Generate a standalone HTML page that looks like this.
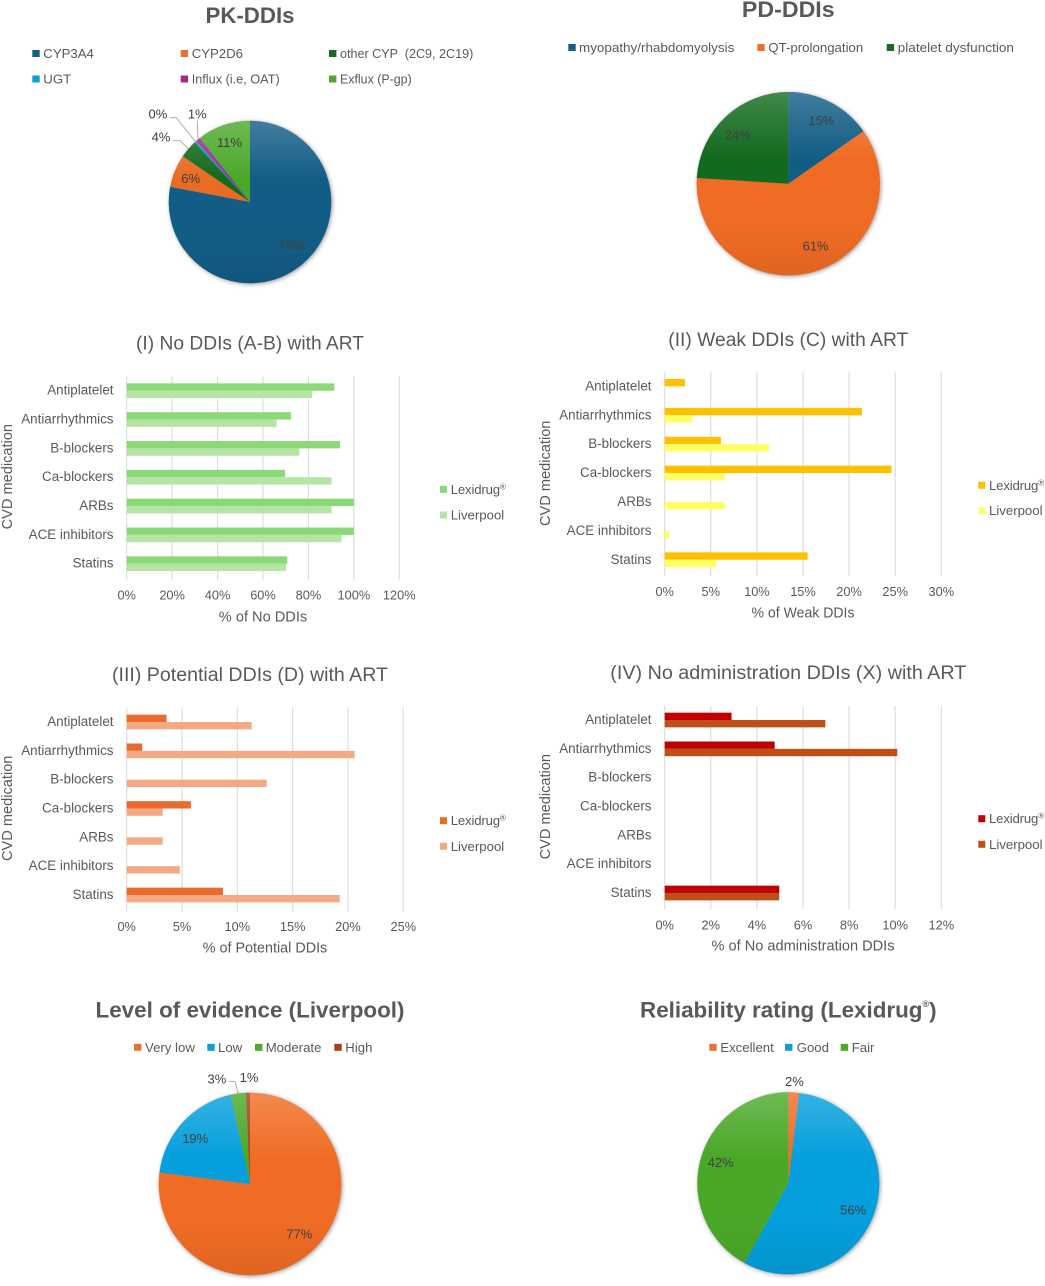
<!DOCTYPE html>
<html lang="en">
<head>
<meta charset="utf-8">
<title>DDI charts</title>
<style>
html,body{margin:0;padding:0;background:#fff}
svg{display:block;filter:blur(.3px)}
text{font-family:"Liberation Sans",sans-serif;fill:#595959;dominant-baseline:central}
.pt{font-size:22px;font-weight:bold;text-anchor:middle}
.bt{font-size:19px;text-anchor:middle}
.lg{font-size:13.2px}
.ax{font-size:14.6px;text-anchor:middle}
.cat{font-size:13.4px;text-anchor:end}
.tick{font-size:12.8px;text-anchor:middle}
.dl{font-size:13px;text-anchor:middle;fill:#404040}
.lx{letter-spacing:-.17px}
</style>
</head>
<body>
<svg id="fig" xmlns="http://www.w3.org/2000/svg" width="1045" height="1286" viewBox="0 0 1045 1286">
<defs>
<linearGradient id="pieGloss" x1="0" y1="0" x2="0" y2="1">
<stop offset="0" stop-color="#fff" stop-opacity=".2"/>
<stop offset=".36" stop-color="#fff" stop-opacity="0"/>
<stop offset=".7" stop-color="#000" stop-opacity="0"/>
<stop offset="1" stop-color="#000" stop-opacity=".07"/>
</linearGradient>
</defs>
<rect width="1045" height="1286" fill="#fff"/>

<!-- PK pie static -->
<text class="pt" x="250" y="15.7" textLength="89" lengthAdjust="spacingAndGlyphs">PK-DDIs</text>
<g class="lg">
<g><rect x="32.3" y="50" width="7.4" height="7" fill="#156082"/><text x="43.3" y="53.5">CYP3A4</text></g>
<g><rect x="180.7" y="50" width="7.4" height="7" fill="#e97132"/><text x="191.7" y="53.5">CYP2D6</text></g>
<g><rect x="329" y="50" width="7.4" height="7" fill="#196b24"/><text x="340" y="53.5" textLength="133.3" lengthAdjust="spacingAndGlyphs">other CYP &#160;(2C9, 2C19)</text></g>
<g><rect x="32.3" y="75.5" width="7.4" height="7" fill="#0f9ed5"/><text x="43.3" y="79">UGT</text></g>
<g><rect x="180.7" y="75.5" width="7.4" height="7" fill="#a02b93"/><text x="191.7" y="79" textLength="88" lengthAdjust="spacingAndGlyphs">Influx (i.e, OAT)</text></g>
<g><rect x="329" y="75.5" width="7.4" height="7" fill="#4ea72e"/><text x="340" y="79" textLength="71.7" lengthAdjust="spacingAndGlyphs">Exflux (P-gp)</text></g>
</g>

<!-- PD pie static -->
<text class="pt" x="788.3" y="9.3" textLength="92.7" lengthAdjust="spacingAndGlyphs">PD-DDIs</text>
<g class="lg">
<g><rect x="568.3" y="44" width="7.4" height="7" fill="#156082"/><text x="579" y="47.5" textLength="155.3" lengthAdjust="spacingAndGlyphs">myopathy/rhabdomyolysis</text></g>
<g><rect x="757.3" y="44" width="7.4" height="7" fill="#e97132"/><text x="768.3" y="47.5" textLength="95" lengthAdjust="spacingAndGlyphs">QT-prolongation</text></g>
<g><rect x="886.7" y="44" width="7.4" height="7" fill="#196b24"/><text x="897.7" y="47.5" textLength="116.3" lengthAdjust="spacingAndGlyphs">platelet dysfunction</text></g>
</g>

<!-- Bar chart titles -->
<text class="bt" x="250" y="344" textLength="228" lengthAdjust="spacingAndGlyphs">(I) No DDIs (A-B) with ART</text>
<text class="bt" x="788.3" y="340.7" textLength="240" lengthAdjust="spacingAndGlyphs">(II) Weak DDIs (C) with ART</text>
<text class="bt" x="250" y="675.7" textLength="276" lengthAdjust="spacingAndGlyphs">(III) Potential DDIs (D) with ART</text>
<text class="bt" x="788.3" y="673.3" textLength="356" lengthAdjust="spacingAndGlyphs">(IV) No administration DDIs (X) with ART</text>

<!-- Axis titles -->
<text class="ax" transform="translate(7.8,476.7) rotate(-90)">CVD medication</text>
<text class="ax" transform="translate(545.8,473.3) rotate(-90)">CVD medication</text>
<text class="ax" transform="translate(7.8,808.3) rotate(-90)">CVD medication</text>
<text class="ax" transform="translate(545.8,806.7) rotate(-90)">CVD medication</text>
<text class="ax" x="263" y="617.3">% of No DDIs</text>
<text class="ax" x="803" y="613.3" textLength="103" lengthAdjust="spacingAndGlyphs">% of Weak DDIs</text>
<text class="ax" x="265" y="948.3" textLength="124.5" lengthAdjust="spacingAndGlyphs">% of Potential DDIs</text>
<text class="ax" x="803" y="946.7" textLength="183" lengthAdjust="spacingAndGlyphs">% of No administration DDIs</text>

<!-- Bar chart legends -->
<g class="lg">
<g><rect x="440" y="485.8" width="7" height="7" fill="#8ad878"/><text class="lx" x="450.7" y="489.3">Lexidrug<tspan dy="-3" font-size="8">®</tspan></text></g>
<g><rect x="440" y="511.5" width="7" height="7" fill="#b5e5a5"/><text x="450.7" y="515">Liverpool</text></g>
</g>
<g class="lg">
<g><rect x="978.3" y="481.8" width="7" height="7" fill="#ffc000"/><text class="lx" x="989" y="485.3">Lexidrug<tspan dy="-3" font-size="8">®</tspan></text></g>
<g><rect x="978.3" y="507.2" width="7" height="7" fill="#ffff66"/><text x="989" y="510.7">Liverpool</text></g>
</g>
<g class="lg">
<g><rect x="440" y="817.2" width="7" height="7" fill="#ea6b2d"/><text class="lx" x="450.7" y="820.7">Lexidrug<tspan dy="-3" font-size="8">®</tspan></text></g>
<g><rect x="440" y="842.8" width="7" height="7" fill="#f4a985"/><text x="450.7" y="846.3">Liverpool</text></g>
</g>
<g class="lg">
<g><rect x="978.3" y="815.2" width="7" height="7" fill="#c00000"/><text class="lx" x="989" y="818.7">Lexidrug<tspan dy="-3" font-size="8">®</tspan></text></g>
<g><rect x="978.3" y="840.8" width="7" height="7" fill="#c04f15"/><text x="989" y="844.3">Liverpool</text></g>
</g>

<!-- Level of evidence static -->
<text class="pt" x="250" y="1010" textLength="309" lengthAdjust="spacingAndGlyphs">Level of evidence (Liverpool)</text>
<g class="lg">
<g><rect x="134" y="1043.8" width="7.4" height="7" fill="#e97132"/><text x="145" y="1047.3">Very low</text></g>
<g><rect x="207.3" y="1043.8" width="7.4" height="7" fill="#0f9ed5"/><text x="218" y="1047.3">Low</text></g>
<g><rect x="255" y="1043.8" width="7.4" height="7" fill="#4ea72e"/><text x="265.7" y="1047.3">Moderate</text></g>
<g><rect x="334.3" y="1043.8" width="7.4" height="7" fill="#a5401a"/><text x="345.3" y="1047.3">High</text></g>
</g>

<!-- Reliability static -->
<text class="pt" x="788.3" y="1010" style="font-size:22.4px">Reliability rating (Lexidrug<tspan dy="-6" font-size="9">®</tspan><tspan dy="6">)</tspan></text>
<g class="lg">
<g><rect x="709.3" y="1043.8" width="7.4" height="7" fill="#e97132"/><text x="720.3" y="1047.3">Excellent</text></g>
<g><rect x="785" y="1043.8" width="7.4" height="7" fill="#0f9ed5"/><text x="796.7" y="1047.3">Good</text></g>
<g><rect x="840.7" y="1043.8" width="7.4" height="7" fill="#4ea72e"/><text x="851.7" y="1047.3">Fair</text></g>
</g>
</svg>

<script>
// ---- Bar chart data ----
const categories = ['Antiplatelet', 'Antiarrhythmics', 'B-blockers', 'Ca-blockers', 'ARBs', 'ACE inhibitors', 'Statins'];

const noDdiLexidrug = [91.4, 72.3, 93.9, 69.7, 100, 100, 70.7];
const noDdiLiverpool = [81.7, 66, 76, 90.2, 90.2, 94.6, 70.1];
const noDdiTicks = [0, 20, 40, 60, 80, 100, 120];

const weakLexidrug = [2.2, 21.4, 6.1, 24.6, 0, 0, 15.5];
const weakLiverpool = [0, 3.0, 11.3, 6.5, 6.5, 0.5, 5.6];
const weakTicks = [0, 5, 10, 15, 20, 25, 30];

const potentialLexidrug = [3.6, 1.4, 0, 5.8, 0, 0, 8.7];
const potentialLiverpool = [11.3, 20.6, 12.65, 3.25, 3.25, 4.8, 19.25];
const potentialTicks = [0, 5, 10, 15, 20, 25];

const noAdminLexidrug = [2.9, 4.77, 0, 0, 0, 0, 4.97];
const noAdminLiverpool = [6.97, 10.09, 0, 0, 0, 0, 4.97];
const noAdminTicks = [0, 2, 4, 6, 8, 10, 12];

// ---- Pie chart data ----
const pkNames = ['CYP3A4', 'CYP2D6', 'other CYP', 'UGT', 'Influx', 'Exflux'];
const pkValues = [78, 6.5, 3.6, 0.4, 0.9, 10.6];
const pkLabels = ['78%', '6%', '4%', '0%', '1%', '11%'];

const pdNames = ['myopathy', 'QT-prolongation', 'platelet-dysfunction'];
const pdValues = [15.3, 60.7, 24];
const pdLabels = ['15%', '61%', '24%'];

const evidenceNames = ['Very low', 'Low', 'Moderate', 'High'];
const evidenceValues = [77, 19.6, 2.7, 0.7];
const evidenceLabels = ['77%', '19%', '3%', '1%'];

const reliabilityNames = ['Excellent', 'Good', 'Fair'];
const reliabilityValues = [1.9, 56.1, 42];
const reliabilityLabels = ['2%', '56%', '42%'];

const svg = document.getElementById('fig');
const NS = 'http://www.w3.org/2000/svg';

function add(parent, tag, attrs) {
  const el = document.createElementNS(NS, tag);
  for (const k in attrs) el.setAttribute(k, attrs[k]);
  parent.appendChild(el);
  return el;
}
function slug(s) {
  return s.toLowerCase().replace(/[^a-z0-9]+/g, '-');
}

function drawBars(name, lexi, liver, ticks, o) {
  const g = add(svg, 'g', {});
  
  
  const maxV = ticks[ticks.length - 1];
  const xOf = function (v) { return o.left + (v / maxV) * (o.right - o.left); };
  const yOf = function (i) { return o.top + o.step * (i + 0.5); };
  const barH = o.step * 0.255;

  ticks.forEach(function (t) {
    const line = add(g, 'line', {x1: xOf(t), x2: xOf(t), y1: o.top, y2: o.top + o.step * categories.length + 1.8, stroke: '#dedede', 'stroke-width': 1.2});
    
    
    const lab = add(g, 'text', {class: 'tick', x: xOf(t), y: o.tickY});
    
    
    lab.textContent = t + '%';
  });

  categories.forEach(function (c, i) {
    const lab = add(g, 'text', {class: 'cat', x: o.left - 13.2, y: yOf(i) - 0.5});
    
    
    lab.textContent = c;

    const b1 = add(g, 'rect', {x: xOf(0), y: yOf(i) - barH, width: xOf(lexi[i]) - xOf(0), height: barH, fill: o.c1});
    
    

    const b2 = add(g, 'rect', {x: xOf(0), y: yOf(i), width: xOf(liver[i]) - xOf(0), height: barH, fill: o.c2});
    
    
  });
}

function drawPie(name, names, values, labels, colors, o) {
  const g = add(svg, 'g', {});
  
  
  const sl = add(g, 'g', {style: 'filter:drop-shadow(1px 1.5px 2px rgba(0,0,0,.4))'});
  
  
  const total = values.reduce(function (a, b) { return a + b; }, 0);
  const pt = function (frac, rad) {
    const a = frac * 2 * Math.PI;
    return [o.cx + Math.sin(a) * rad, o.cy - Math.cos(a) * rad];
  };
  let cum = 0;
  const mids = [];
  values.forEach(function (v, i) {
    const f0 = cum / total;
    const f1 = (cum + v) / total;
    cum += v;
    mids.push((f0 + f1) / 2);
    const p0 = pt(f0, o.r);
    const p1 = pt(f1, o.r);
    const large = (f1 - f0) > 0.5 ? 1 : 0;
    const d = 'M' + o.cx + ' ' + o.cy + 'L' + p0[0] + ' ' + p0[1] + 'A' + o.r + ' ' + o.r + ' 0 ' + large + ' 1 ' + p1[0] + ' ' + p1[1] + 'Z';
    const s = add(sl, 'path', {d: d, fill: colors[i]});
    
    
  });
  const gloss = add(g, 'circle', {cx: o.cx, cy: o.cy, r: o.r, fill: 'url(#pieGloss)'});
  
  

  labels.forEach(function (t, i) {
    const p = pt(mids[i], o.r * o.fracs[i]);
    const x = p[0] + o.nudges[i][0];
    const y = p[1] + o.nudges[i][1];
    const lab = add(g, 'text', {class: 'dl', x: x, y: y});
    
    
    lab.textContent = t;
    const lead = o.leaders[i];
    if (lead) {
      const e = pt(mids[i], o.r);
      const pts = [[x + lead[0], y + lead[1]], [x + lead[2], y + lead[1]], e].map(function (q) { return q.join(','); }).join(' ');
      const pl = add(g, 'polyline', {points: pts, fill: 'none', stroke: '#a6a6a6', 'stroke-width': 0.9});
      
      
    }
  });
}

drawBars('chart-i', noDdiLexidrug, noDdiLiverpool, noDdiTicks, {left: 126.7, right: 399.3, top: 376.3, step: 28.83, tickY: 595, c1: '#8ad878', c2: '#b5e5a5'});
drawBars('chart-ii', weakLexidrug, weakLiverpool, weakTicks, {left: 664.7, right: 941.3, top: 371.9, step: 28.9, tickY: 591.7, c1: '#ffc000', c2: '#ffff66'});
drawBars('chart-iii', potentialLexidrug, potentialLiverpool, potentialTicks, {left: 126.7, right: 403.3, top: 707.6, step: 28.83, tickY: 926.7, c1: '#ea6b2d', c2: '#f4a985'});
drawBars('chart-iv', noAdminLexidrug, noAdminLiverpool, noAdminTicks, {left: 664.7, right: 941.3, top: 705.6, step: 28.83, tickY: 925, c1: '#c00000', c2: '#c04f15'});

drawPie('pk', pkNames, pkValues, pkLabels, ['#125d85', '#ea6b24', '#146a1e', '#0f9ed5', '#a02b93', '#4aa828'], {
  cx: 250, cy: 202, r: 81.3,
  fracs: [0.738, 0.79, 1.353, 1.56, 1.255, 0.775],
  nudges: [[3.5, -3], [0, 1], [-5.6, 6.7], [-7, 6], [12.5, -9.5], [0, 0]],
  leaders: [null, null, [12.3, 3.7, 19], [12.3, 3.7, 18.3], [0, 6.4, 0], null]
});
drawPie('pd', pdNames, pdValues, pdLabels, ['#125d85', '#f06c24', '#126a1e'], {
  cx: 788.3, cy: 183.7, r: 91.7,
  fracs: [0.78, 0.74, 0.765],
  nudges: [[0, 0], [9, -3], [-2.6, 2.5]],
  leaders: [null, null, null]
});
drawPie('evidence', evidenceNames, evidenceValues, evidenceLabels, ['#f06c24', '#049fdc', '#4aa828', '#a5401a'], {
  cx: 250, cy: 1184, r: 91.3,
  fracs: [0.77, 0.778, 1.205, 1.169],
  nudges: [[2.8, -2.5], [-2.4, 2.7], [-19, 4], [1.4, 0]],
  leaders: [null, null, [11.6, 2.7, 18.3], null]
});
drawPie('reliability', reliabilityNames, reliabilityValues, reliabilityLabels, ['#f06c24', '#049fdc', '#4aa828'], {
  cx: 788.3, cy: 1183.3, r: 91,
  fracs: [1.118, 0.772, 0.778],
  nudges: [[0, 0], [-2, 5], [1, -3.4]],
  leaders: [null, null, null]
});
</script>
</body>
</html>
